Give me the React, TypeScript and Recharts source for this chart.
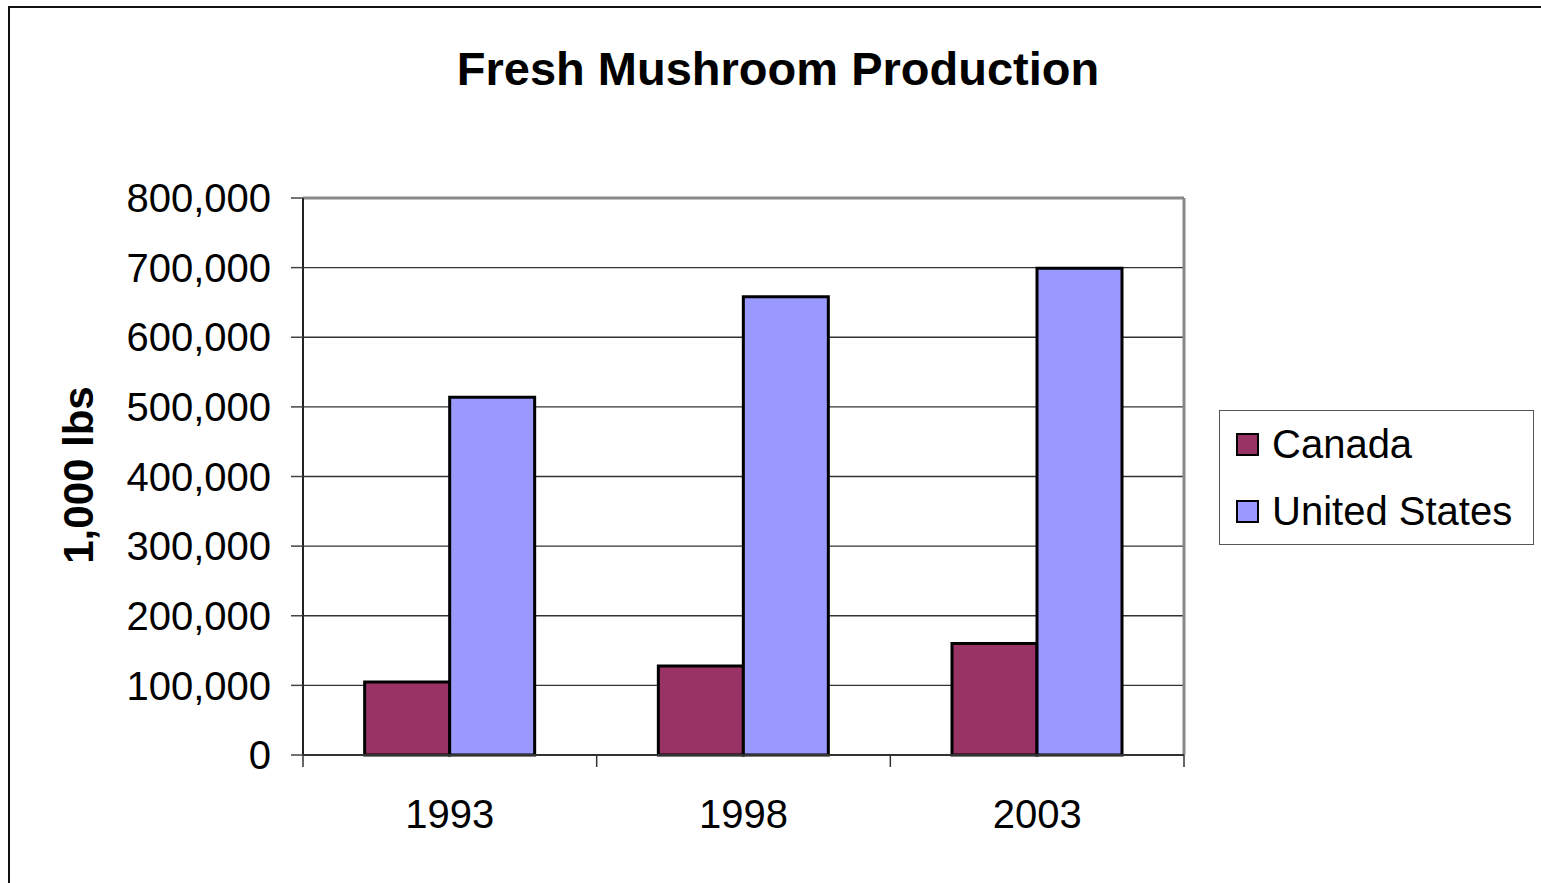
import { BarChart, Bar, XAxis, YAxis, CartesianGrid, ReferenceLine, Legend } from 'recharts'

const years = ['1993', '1998', '2003']
const canada = [105000, 128000, 160000]
const unitedStates = [514000, 658000, 699000]
const yTicks = [0, 100000, 200000, 300000, 400000, 500000, 600000, 700000, 800000]

const data = years.map((year, i) => ({ year, canada: canada[i], us: unitedStates[i] }))

const FONT = '"Liberation Sans", Arial, sans-serif'
const fmt = (v: number) => v.toLocaleString('en-US')

function LegendBox({ payload }: any) {
  return (
    <div style={{ width: 313, height: 133, border: '1px solid #555', background: '#fff', fontFamily: FONT, fontSize: 40, color: '#000', position: 'relative' }}>
      {(payload || []).map((p: any, i: number) => (
        <div key={i} style={{ position: 'absolute', left: 16, top: i === 0 ? 10 : 77, height: 46, display: 'flex', alignItems: 'center' }}>
          <span style={{ width: 19, height: 19, background: p.color, border: '2px solid #000', display: 'inline-block', marginRight: 13 }} />
          <span style={{ lineHeight: '46px' }}>{p.value}</span>
        </div>
      ))}
    </div>
  )
}

// year label plus the small tick marks that sit on the category edges
function YearTick(props: any) {
  const { x, y, payload, index, visibleTicksCount, width } = props
  const half = payload && typeof payload.offset === 'number' && payload.offset > 0
    ? payload.offset
    : width / (2 * (visibleTicksCount || years.length))
  const top = y
  return (
    <g>
      <line x1={x - half} x2={x - half} y1={top} y2={top + 12} stroke="#333" strokeWidth={1.5} />
      {index === (visibleTicksCount || years.length) - 1 && (
        <line x1={x + half} x2={x + half} y1={top} y2={top + 12} stroke="#333" strokeWidth={1.5} />
      )}
      <text x={x} y={top + 45} dy="0.71em" textAnchor="middle" fontFamily={FONT} fontSize={40} fill="#000">
        {payload.value}
      </text>
    </g>
  )
}

export default function App() {
  return (
    <div style={{ position: 'fixed', left: 0, top: 0, width: 1541, height: 883, background: '#fff', overflow: 'hidden' }}>
      <div style={{ position: 'absolute', left: 8, top: 6, width: 1600, height: 900, borderLeft: '2px solid #111', borderTop: '2px solid #111' }} />
      <BarChart
        width={1541}
        height={883}
        data={data}
        margin={{ top: 198, right: 357, bottom: 0, left: 0 }}
        barCategoryGap="21%"
        barGap={0}
        style={{ position: 'absolute', left: 0, top: 0 }}
      >
        <CartesianGrid vertical={false} stroke="#333" strokeWidth={1.3} />
        <CartesianGrid
          horizontal={false}
          stroke="#888"
          strokeWidth={3}
          verticalCoordinatesGenerator={({ offset }: any) => [offset.left + offset.width]}
        />
        <XAxis
          dataKey="year"
          height={128}
          axisLine={{ stroke: '#333', strokeWidth: 2 }}
          tickLine={false}
          tickSize={0}
          tickMargin={0}
          interval={0}
          tick={<YearTick />}
        />
        <YAxis
          width={303}
          domain={[0, 800000]}
          ticks={yTicks}
          interval={0}
          tickFormatter={fmt}
          tickSize={12}
          tickMargin={20}
          tick={{ fill: '#000', fontSize: 40, fontFamily: FONT }}
          tickLine={{ stroke: '#444', strokeWidth: 1.5 }}
          axisLine={{ stroke: '#222', strokeWidth: 2 }}
        />
        <ReferenceLine y={800000} stroke="#888" strokeWidth={3} />
        <Bar dataKey="canada" name="Canada" fill="#993366" stroke="#000" strokeWidth={3} isAnimationActive={false} />
        <Bar dataKey="us" name="United States" fill="#9999FF" stroke="#000" strokeWidth={3} isAnimationActive={false} />
        <Legend
          layout="vertical"
          align="center"
          verticalAlign="middle"
          content={<LegendBox />}
          wrapperStyle={{ position: 'absolute', left: 1219, top: 410, width: 315, height: 135 }}
        />
      </BarChart>
      <svg width={1541} height={883} style={{ position: 'absolute', left: 0, top: 0, pointerEvents: 'none' }}>
        <text x={778} y={85} textAnchor="middle" fontFamily={FONT} fontWeight="bold" fontSize={47} fill="#000">
          Fresh Mushroom Production
        </text>
        <text x={93} y={475} transform="rotate(-90 93 475)" textAnchor="middle" fontFamily={FONT} fontWeight="bold" fontSize={42} fill="#000">
          1,000 lbs
        </text>
      </svg>
    </div>
  )
}
